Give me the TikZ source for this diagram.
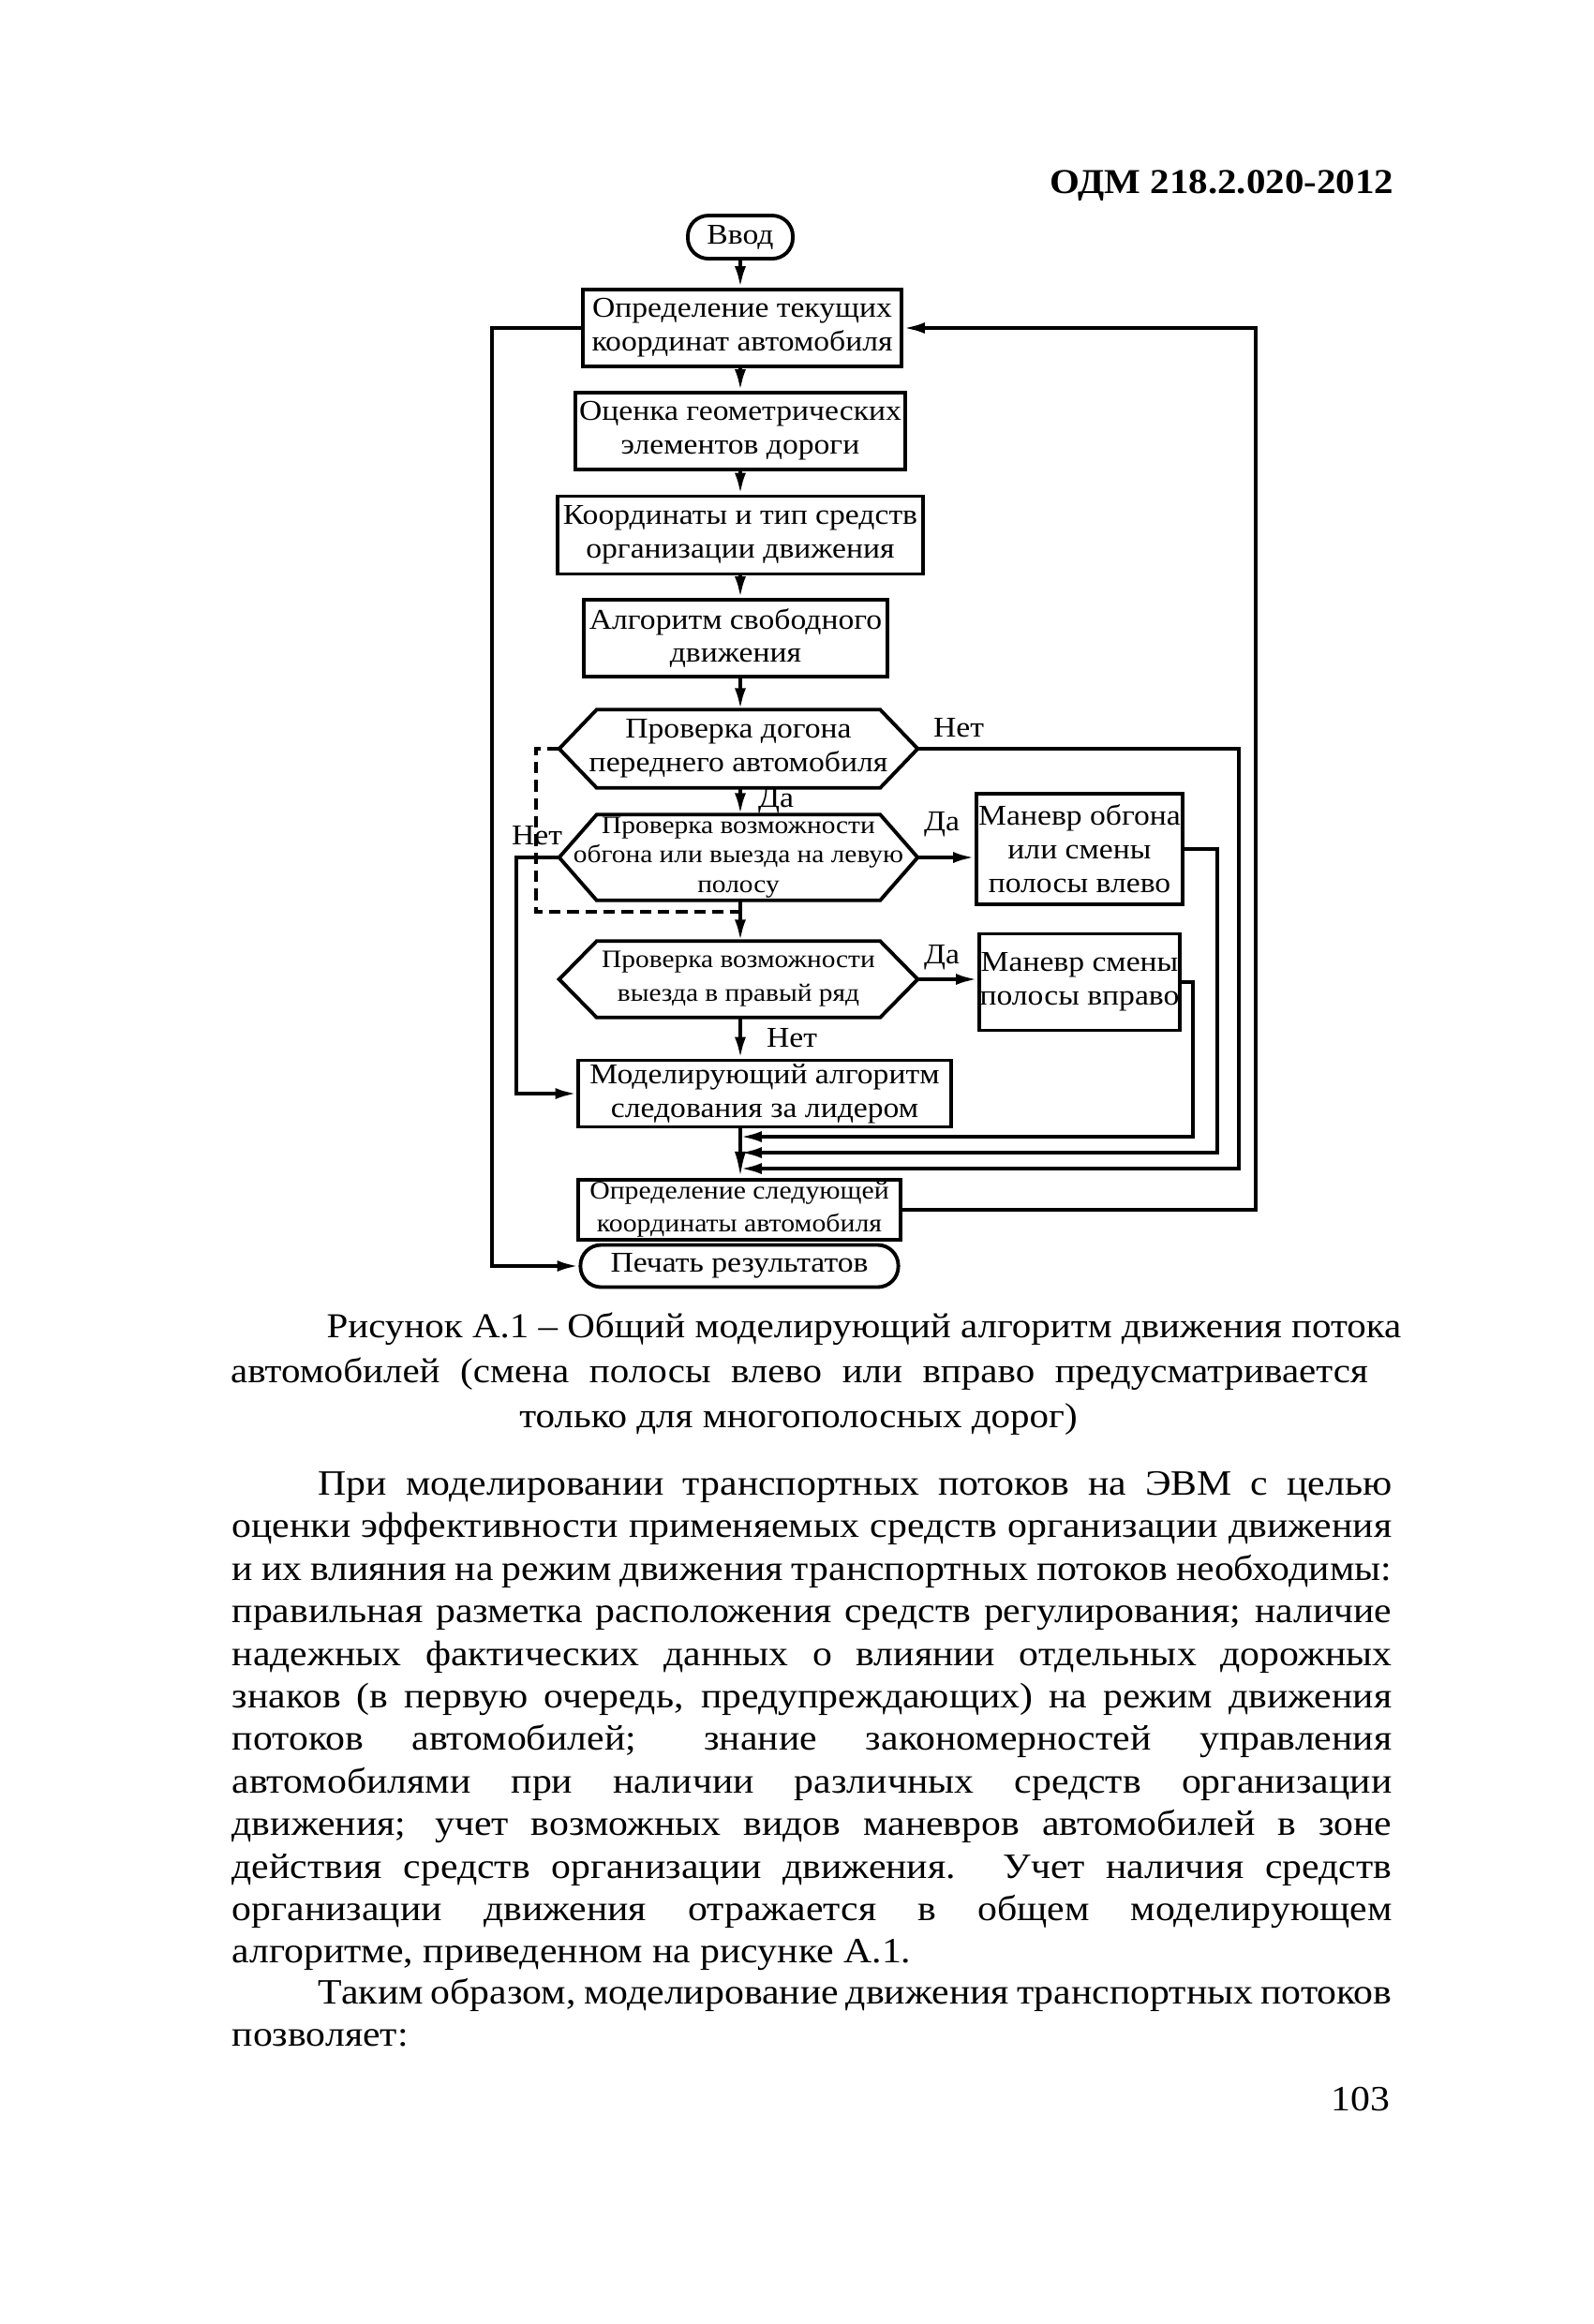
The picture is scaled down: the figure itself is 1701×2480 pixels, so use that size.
\documentclass[tikz,border=0pt]{standalone}
\usepackage{fontspec}
\setmainfont{Liberation Serif}[FakeStretch=1.1]
\usetikzlibrary{arrows.meta,calc}
\newcommand{\hexoutline}[2]{%
  \draw[ln] (#1.west) -- ($(#1.north west)+(#2,0)$) -- ($(#1.north east)-(#2,0)$) -- (#1.east)
    -- ($(#1.south east)-(#2,0)$) -- ($(#1.south west)+(#2,0)$) -- cycle;}
\newcommand{\jline}[5]{\node[body] (#1) at (#2,#3) {\makebox[#4][s]{#5}};}
\begin{document}
\begin{tikzpicture}[x=0.01cm,y=-0.01cm,
  every node/.style={inner sep=0pt},
  ln/.style={line width=1.1pt},
  arr/.style={ln,-{Latex[length=6.5pt,width=3.4pt]}},
  box/.style={draw,ln,rectangle,align=center,font=\fontsize{8.7}{10.2}\selectfont},
  sbox/.style={box,font=\fontsize{7.7}{10}\selectfont},
  term/.style={box,rounded corners=0.22cm},
  hexn/.style={rectangle,align=center,font=\fontsize{8.7}{10.2}\selectfont},
  shexn/.style={hexn,font=\fontsize{7.6}{8.9}\selectfont},
  lab/.style={font=\fontsize{8.7}{10}\selectfont},
  body/.style={anchor=base west,font=\fontsize{10.8}{12}\selectfont},
  capt/.style={anchor=base,font=\fontsize{10.6}{12}\selectfont},
]
\useasboundingbox (0,0) rectangle (1701,2480);

% header
\node[font=\bfseries\fontsize{10.6}{12}\selectfont,anchor=base east] (hdr) at (1488,206) {ОДМ 218.2.020-2012};

% flowchart nodes
\coordinate (ax) at (790,0);
\node[term,minimum width=1.12cm,minimum height=0.46cm] (vvod) at (790,253) {Ввод};
\node[box,minimum width=3.40cm,minimum height=0.82cm] (b1) at (792,350) {Определение текущих\\координат автомобиля};
\node[box,minimum width=3.51cm,minimum height=0.82cm] (b2) at (790,460) {Оценка геометрических\\элементов дороги};
\node[box,minimum width=3.90cm,minimum height=0.83cm] (b3) at (790,571) {Координаты и тип средств\\организации движения};
\node[box,minimum width=3.24cm,minimum height=0.82cm] (b4) at (785,681) {Алгоритм свободного\\движения};
\node[hexn,minimum width=3.81cm,minimum height=0.82cm] (h1) at (788,799) {Проверка догона\\переднего автомобиля};
\node[shexn,minimum width=3.81cm,minimum height=0.90cm] (h2) at (788,915) {Проверка возможности\\обгона или выезда на левую\\полосу};
\node[shexn,minimum width=3.81cm,minimum height=0.80cm,font=\fontsize{7.6}{10.2}\selectfont] (h3) at (788,1045) {Проверка возможности\\выезда в правый ряд};
\hexoutline{h1}{40}
\hexoutline{h2}{40}
\hexoutline{h3}{40}
\node[box,minimum width=2.20cm,minimum height=1.18cm] (m1) at (1152,906) {Маневр обгона\\или смены\\полосы влево};
\node[box,minimum width=2.14cm,minimum height=1.03cm] (m2) at (1152,1048) {Маневр смены\\полосы вправо};
\node[box,minimum width=3.97cm,minimum height=0.71cm] (b5) at (816,1167) {Моделирующий алгоритм\\следования за лидером};
\node[sbox,minimum width=3.43cm,minimum height=0.64cm] (b6) at (789,1291) {Определение следующей\\координаты автомобиля};
\node[term,minimum width=3.39cm,minimum height=0.45cm] (pech) at (789,1351) {Печать результатов};

% labels
\node[lab] (n1) at (1023,777) {Нет};
\node[lab] (d1) at (828,855) {Да};
\node[lab] (n2) at (573,892) {Нет};
\node[lab] (d2) at (1005,880) {Да};
\node[lab] (d3) at (1005,1022) {Да};
\node[lab] (n3) at (845,1108) {Нет};

% main vertical arrows
\draw[arr] (vvod.south) -- (ax |- b1.north);
\draw[arr] (ax |- b1.south) -- (ax |- b2.north);
\draw[arr] (ax |- b2.south) -- (ax |- b3.north);
\draw[arr] (ax |- b3.south) -- (ax |- b4.north);
\draw[arr] (ax |- b4.south) -- (ax |- h1.north);
\draw[arr] (ax |- h1.south) -- (ax |- h2.north);
\draw[arr] (ax |- h2.south) -- (ax |- h3.north);
\draw[arr] (ax |- h3.south) -- (ax |- b5.north);
\draw[ln,-{Latex[length=8pt,width=3.4pt]}] (ax |- b5.south) -- (ax |- b6.north);

% side branches
\draw[arr] (h2.east) -- (h2.east -| m1.west);
\draw[arr] (h3.east) -- (h3.east -| m2.west);

% right returns
\coordinate (r1) at (1322,0);
\coordinate (r2) at (1299,0);
\coordinate (r3) at (1273,0);
\coordinate (r4) at (1340,0);
\coordinate (y1) at (0,1247);
\coordinate (y2) at (0,1230);
\coordinate (y3) at (0,1213);
\draw[arr] (h1.east) -- (h1.east -| r1) -- (r1 |- y1) -- (ax |- y1);
\draw[arr] (m1.east) -- (m1.east -| r2) -- (r2 |- y2) -- (ax |- y2);
\draw[arr] (m2.east) -- (m2.east -| r3) -- (r3 |- y3) -- (ax |- y3);
\draw[arr] (b6.east) -- (b6.east -| r4) -- (r4 |- b1.east) -- (b1.east);

% left lines
\coordinate (l1) at (525,0);
\coordinate (l2) at (551,0);
\coordinate (l3) at (572,0);
\coordinate (y4) at (0,973);
\draw[arr] (b1.west) -- (b1.west -| l1) -- (l1 |- pech.west) -- (pech.west);
\draw[arr] (h2.west) -- (h2.west -| l2) -- (l2 |- b5.west) -- (b5.west);
\draw[ln,dash pattern=on 3.5pt off 2pt] (h1.west) -- (h1.west -| l3) -- (l3 |- y4) -- (ax |- y4);

% caption
\node[capt] (c1) at (922,1427) {Рисунок А.1 – Общий моделирующий алгоритм движения потока};
\node[capt] (c2) at (853,1475) {\makebox[12.13cm][s]{автомобилей (смена полосы влево или вправо предусматривается}};
\node[capt] (c3) at (852,1523) {только для многополосных дорог)};

% body text
\jline{t1}{339}{1595}{11.45cm}{При моделировании транспортных потоков на ЭВМ с целью}
\jline{t2}{247}{1640}{12.37cm}{оценки эффективности применяемых средств организации движения}
\jline{t3}{247}{1686}{12.37cm}{и их влияния на режим движения транспортных потоков необходимы:}
\jline{t4}{247}{1731}{12.37cm}{правильная разметка расположения средств регулирования; наличие}
\jline{t5}{247}{1777}{12.37cm}{надежных фактических данных о влиянии отдельных дорожных}
\jline{t6}{247}{1822}{12.37cm}{знаков (в первую очередь, предупреждающих) на режим движения}
\jline{t7}{247}{1867}{12.37cm}{потоков автомобилей; знание закономерностей управления}
\jline{t8}{247}{1913}{12.37cm}{автомобилями при наличии различных средств организации}
\jline{t9}{247}{1958}{12.37cm}{движения; учет возможных видов маневров автомобилей в зоне}
\jline{t10}{247}{2004}{12.37cm}{действия средств организации движения. Учет наличия средств}
\jline{t11}{247}{2049}{12.37cm}{организации движения отражается в общем моделирующем}
\node[body] (t12) at (247,2094) {алгоритме, приведенном на рисунке А.1.};
\jline{t13}{339}{2138}{11.45cm}{Таким образом, моделирование движения транспортных потоков}
\node[body] (t14) at (247,2183) {позволяет:};
\node[body,anchor=base east] (pg) at (1484,2252) {103};
\end{tikzpicture}
\end{document}
